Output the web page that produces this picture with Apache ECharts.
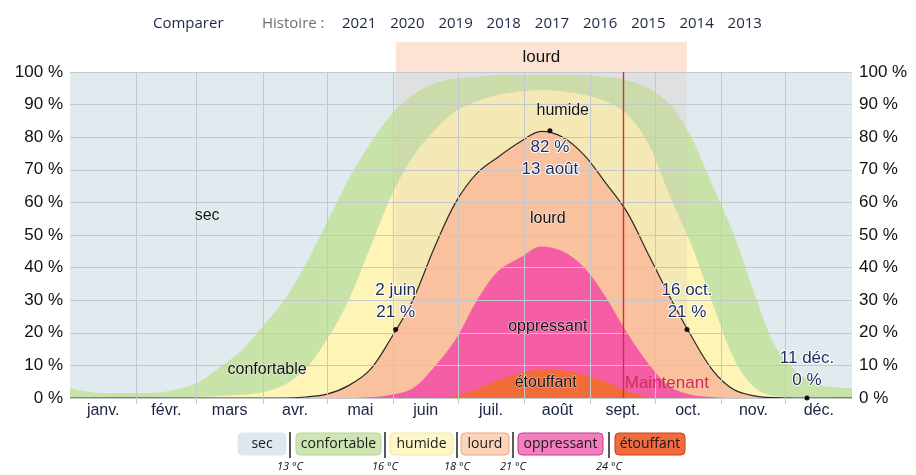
<!DOCTYPE html>
<html lang="fr">
<head>
<meta charset="UTF-8">
<title>Humidité</title>
<script src="https://cdn.jsdelivr.net/npm/echarts@6/dist/echarts.min.js"></script>
<style>
  html, body { margin: 0; padding: 0; background: #fff; }
  #cc { width: 916px; height: 475px; }
</style>
</head>
<body>
<div id="cc"></div>
<script>
// day of year for each sample
var days = [0, 15, 31, 45, 59, 70, 80, 90, 100, 110, 120, 130, 140, 150, 160, 170, 180,
            190, 200, 210, 220, 230, 240, 250, 260, 270, 280, 290, 300, 310, 320, 330, 340, 350, 365];

// cumulative % of time at or above each level
var confortable = [3, 1.5, 1.5, 2, 4.5, 9.5, 14.5, 22, 30, 41, 54, 67, 78, 87, 93, 96.5, 98,
                   98.5, 99, 99, 99, 99, 99, 98.5, 97.5, 95, 90, 80, 65, 50, 31, 15, 7.5, 4, 3];
var humide = [0.3, 0.1, 0, 0.1, 0.3, 0.6, 1, 1.8, 4, 9, 18, 30, 46, 62, 74, 82, 88,
              91, 93, 94, 94.5, 94, 93, 91, 87, 78, 62, 47, 29, 12, 3, 0.5, 0.2, 0.1, 0.3];
var lourd = [0, 0, 0, 0, 0, 0, 0, 0, 0, 0.3, 1.2, 3.8, 8.6, 18.5, 30, 46, 60,
             69, 74, 78.5, 81.8, 80, 74.5, 66, 57, 44, 31, 19, 8.5, 2.5, 0.6, 0.1, 0, 0, 0];
var oppressant = [0, 0, 0, 0, 0, 0, 0, 0, 0, 0, 0, 0, 0.2, 1, 3, 9.5, 18,
                  30, 39, 43, 46.5, 45, 40, 31, 20, 10.5, 3.5, 1, 0.3, 0, 0, 0, 0, 0, 0];
var etouffant = [0, 0, 0, 0, 0, 0, 0, 0, 0, 0, 0, 0, 0, 0, 0, 0, 0.6,
                 2.8, 5.5, 7.6, 8.8, 8.4, 7.2, 5, 2, 0.4, 0, 0, 0, 0, 0, 0, 0, 0, 0];

var monthNames = ['janv.', 'févr.', 'mars', 'avr.', 'mai', 'juin', 'juil.', 'août', 'sept.', 'oct.', 'nov.', 'déc.'];
var monthStarts = [0, 31, 59, 90, 120, 151, 181, 212, 243, 273, 304, 334, 365];
var monthMids = monthNames.map(function (m, i) { return (monthStarts[i] + monthStarts[i + 1]) / 2; });

var years = ['2021', '2020', '2019', '2018', '2017', '2016', '2015', '2014', '2013'];

// marked points on the black line: [day, %, text]
var notes = [
    [224, 82, '82 %\n13 août'],
    [152, 21, '2 juin\n21 %'],
    [288, 21, '16 oct.\n21 %'],
    [344, 0, '11 déc.\n0 %']
];
var highlight = [152, 288];   // 2 juin -> 16 oct.
var nowDay = 258;

var legendNames = ['sec', 'confortable', 'humide', 'lourd', 'oppressant', 'étouffant'];
var legendTemps = ['13 °C', '16 °C', '18 °C', '21 °C', '24 °C'];

function pairs(vals) {
    return days.map(function (d, i) { return [d, vals[i]]; });
}

var FONT = '"Liberation Sans", Arial, sans-serif';
var UI = '"Open Sans", sans-serif';

var chart = echarts.init(document.getElementById('cc'));

function band(name, vals, color, z, extra) {
    var s = {
        name: name,
        type: 'line',
        data: pairs(vals),
        smooth: 0.35,
        showSymbol: false,
        silent: true,
        z: z,
        lineStyle: { width: 0 },
        areaStyle: { color: color, opacity: 1 }
    };
    return Object.assign(s, extra || {});
}

var bandText = { fontFamily: FONT, fontSize: 16, color: '#111', textBorderColor: 'rgba(255,255,255,0.6)', textBorderWidth: 1 };
function tag(text, day, val) {
    return { coord: [day, val], symbolSize: 0, label: Object.assign({ show: true, formatter: text, position: 'inside' }, bandText) };
}

// legend strip built as text
var legBoxes = [[238, 48, '#dde8ee', '#dde8ee'], [296, 85, '#cfe6b4', '#b3d596'], [390, 63, '#fdf6c6', '#f1e6a0'],
                [461, 48, '#fcd4bb', '#eea57c'], [518, 85, '#f37ec0', '#c23d88'], [615, 70, '#f26b3d', '#c4431e']];
var legSeps = [290, 385, 457, 513, 609];
var graphics = [
    { type: 'text', x: 153, y: 24, style: { text: 'Comparer', font: '15px ' + UI, fill: '#1a2846', verticalAlign: 'middle' } },
    { type: 'text', x: 262, y: 24, style: { text: 'Histoire :', font: '15px ' + UI, fill: '#707070', verticalAlign: 'middle' } }
];
years.forEach(function (y, i) {
    graphics.push({ type: 'text', x: 342 + i * 48.2, y: 24, style: { text: y, font: '15px ' + UI, fill: '#1a2846', verticalAlign: 'middle' } });
});
legendNames.forEach(function (n, i) {
    var b = legBoxes[i];
    graphics.push({ type: 'rect', shape: { x: b[0], y: 433, width: b[1], height: 22, r: 4 },
        style: { fill: b[2], stroke: b[3], lineWidth: 1 } });
    graphics.push({ type: 'text', x: b[0] + b[1] / 2, y: 444,
        style: { text: n, font: '14px ' + UI, fill: '#1a1a1a', align: 'center', verticalAlign: 'middle' } });
});
legendTemps.forEach(function (t, i) {
    graphics.push({ type: 'rect', shape: { x: legSeps[i] - 0.75, y: 432, width: 1.5, height: 26 }, style: { fill: '#222' } });
    graphics.push({ type: 'text', x: legSeps[i], y: 467,
        style: { text: t, font: 'italic 11px ' + UI, fill: '#111', align: 'center', verticalAlign: 'middle' } });
});

var yAxisBase = {
    type: 'value', min: 0, max: 100, interval: 10, z: 10,
    axisLine: { show: false }, axisTick: { show: false },
    splitLine: { show: true, lineStyle: { color: '#c3c8cc', width: 1 } },
    axisLabel: { formatter: '{value} %', fontFamily: FONT, fontSize: 17, color: '#111', margin: 7 }
};

chart.setOption({
    animation: false,
    grid: { left: 70, right: 64, top: 72, bottom: 77, show: true, backgroundColor: '#e0eaef', borderWidth: 0 },
    graphic: graphics,
    xAxis: {
        type: 'value', min: 0, max: 365, z: 10,
        axisLine: { show: false },
        splitLine: { show: false },
        axisTick: { show: true, customValues: monthStarts.slice(1, 12), length: 6, lineStyle: { color: '#c3c8cc' } },
        axisLabel: {
            customValues: monthMids,
            formatter: function (v) { return monthNames[monthMids.indexOf(v)]; },
            fontFamily: FONT, fontSize: 16, color: '#1a2440', margin: 5
        }
    },
    yAxis: [
        Object.assign({}, yAxisBase, { position: 'left' }),
        Object.assign({}, yAxisBase, { position: 'right', splitLine: { show: false } })
    ],
    series: [
        band('confortable', confortable, '#c8e3a7', 2, {
            markLine: {
                silent: true, symbol: 'none', z: 9,
                label: { show: false },
                lineStyle: { color: '#c3c8cc', width: 1, type: 'solid' },
                data: monthStarts.slice(1, 12).map(function (d) { return { xAxis: d }; })
            }
        }),
        band('humide', humide, '#fdf4b5', 3, {
            markArea: {
                silent: true, z: 3.5,
                itemStyle: { color: 'rgba(215,190,180,0.22)' },
                label: {
                    show: true, position: 'top', distance: 0, formatter: 'lourd',
                    backgroundColor: '#fde3d4', width: 291, height: 30, lineHeight: 30,
                    align: 'center',
                    fontFamily: FONT, fontSize: 17, color: '#111'
                },
                data: [[{ xAxis: highlight[0] }, { xAxis: highlight[1] }]]
            }
        }),
        band('lourd', lourd, '#f9c19e', 4, {
            lineStyle: { width: 1.2, color: '#2a2a2a' },
            markPoint: {
                z: 12, silent: true,
                symbol: 'circle', symbolSize: 5,
                itemStyle: { color: '#111' },
                data: notes.map(function (n, i) {
                    return {
                        coord: [n[0], n[1]],
                        label: {
                            show: true, formatter: n[2],
                            position: i === 0 ? 'bottom' : 'top', distance: i === 0 ? 3 : 4,
                            fontFamily: FONT, fontSize: 17, lineHeight: 22, color: '#1c2b5c',
                            textBorderColor: '#fff', textBorderWidth: 2
                        }
                    };
                })
            }
        }),
        band('oppressant', oppressant, '#f55ea5', 5),
        band('étouffant', etouffant, '#f26c3a', 6, {
            markLine: {
                silent: true, symbol: 'none', z: 11,
                label: { show: false },
                lineStyle: { color: '#e02836', width: 1.4, type: 'solid', opacity: 1 },
                emphasis: { disabled: true },
                data: [{ xAxis: nowDay, lineStyle: { color: '#e02836' } }]
            },
            markPoint: {
                z: 12, silent: true, symbol: 'circle',
                data: [
                    tag('sec', 64, 56),
                    tag('confortable', 92, 8.6),
                    tag('humide', 230, 88.3),
                    tag('lourd', 223, 55),
                    tag('oppressant', 223, 22),
                    tag('étouffant', 222, 4.6),
                    { coord: [nowDay, 4.6], symbolSize: 0,
                      label: { show: true, formatter: 'Maintenant', position: 'right', distance: 2,
                               fontFamily: FONT, fontSize: 17, color: '#cc2d5c' } }
                ]
            }
        })
    ]
});
</script>
</body>
</html>
